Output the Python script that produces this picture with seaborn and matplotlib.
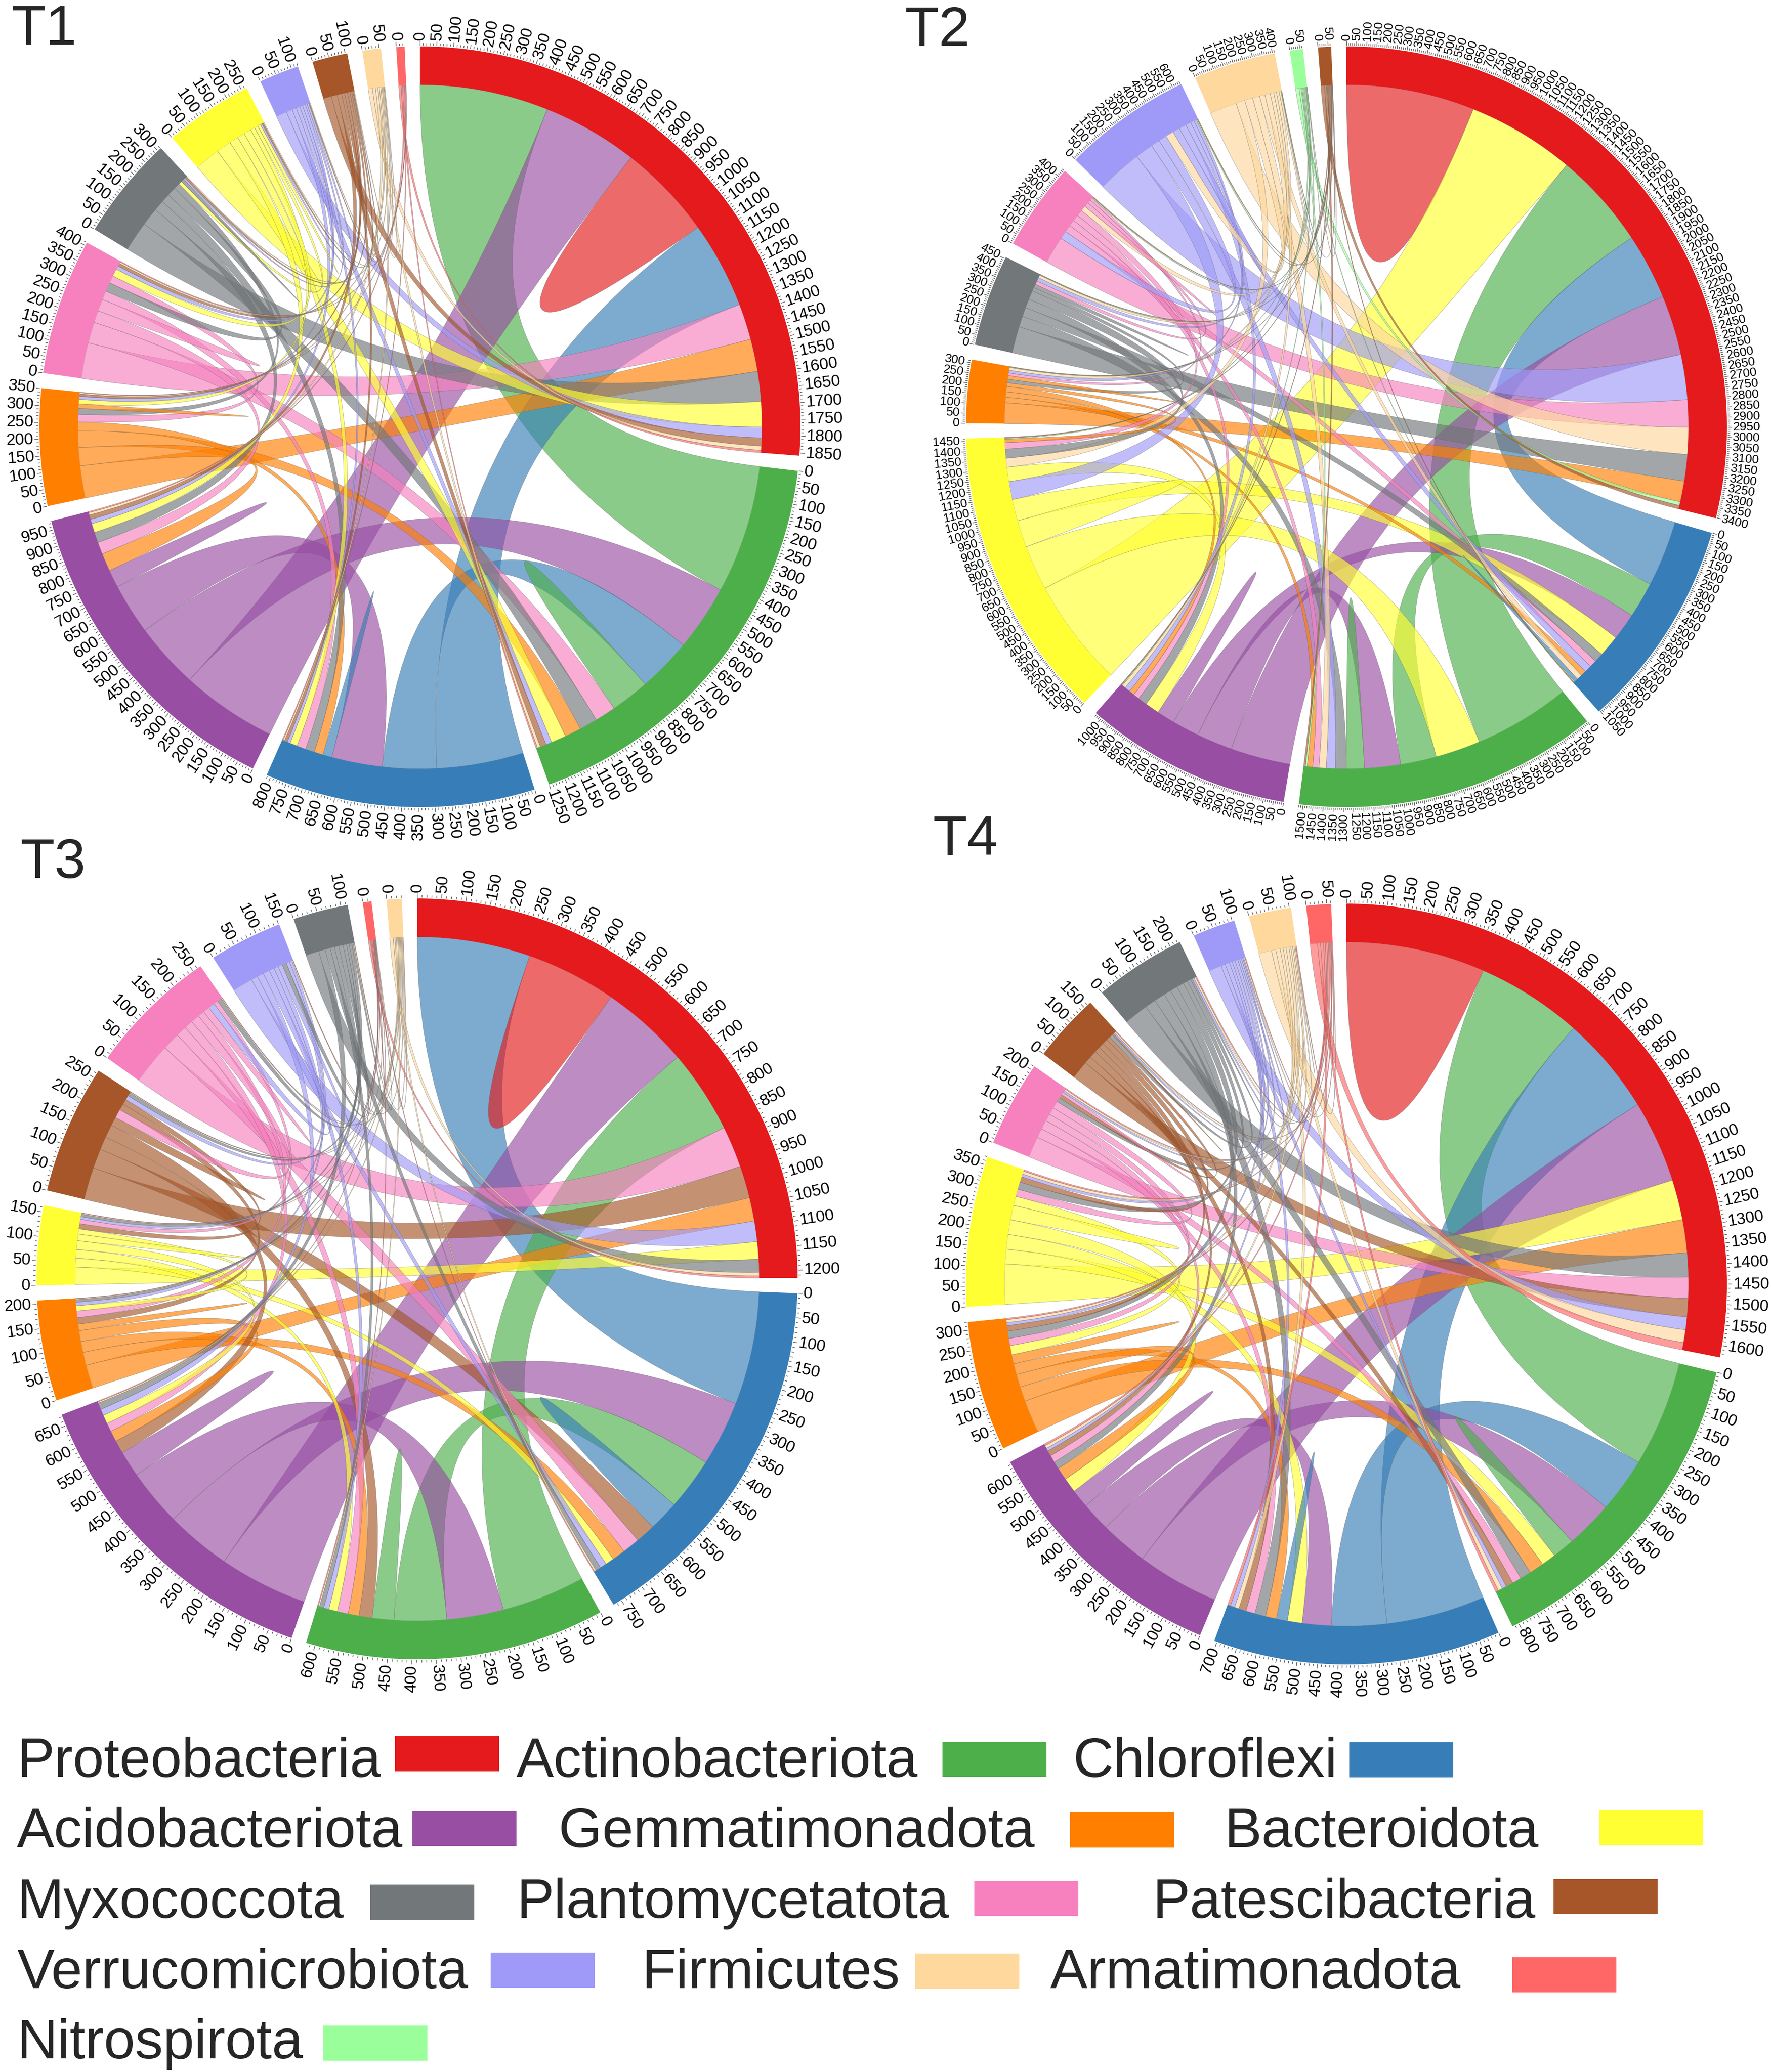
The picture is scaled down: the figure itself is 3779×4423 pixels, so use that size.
import numpy as np
import matplotlib
matplotlib.use("Agg")
import matplotlib.pyplot as plt
from matplotlib.path import Path
from matplotlib.patches import PathPatch, Wedge, Rectangle
from matplotlib.collections import LineCollection
from matplotlib.colors import to_rgba
import seaborn as sns

sns.set_theme(style="white")
plt.rcParams["font.family"] = ["Liberation Sans", "DejaVu Sans"]

# ---- phyla -------------------------------------------------------------
NAMES = {
    "Pro": "Proteobacteria", "Act": "Actinobacteriota", "Chl": "Chloroflexi",
    "Aci": "Acidobacteriota", "Gem": "Gemmatimonadota", "Bac": "Bacteroidota",
    "Myx": "Myxococcota", "Pla": "Plantomycetatota", "Pat": "Patescibacteria",
    "Ver": "Verrucomicrobiota", "Fir": "Firmicutes", "Arm": "Armatimonadota",
    "Nit": "Nitrospirota",
}
set1 = sns.color_palette("Set1", 9).as_hex()
COLORS = {
    "Pro": set1[0], "Chl": set1[1], "Act": set1[2], "Aci": set1[3],
    "Gem": set1[4], "Bac": set1[5], "Pat": set1[6], "Pla": set1[7],
    "Myx": "#72777a", "Ver": "#9f9af8", "Fir": "#fed89d",
    "Arm": "#ff6666", "Nit": "#9aff9a",
}

# ---- T1 ----------------------------------------------------------------
T1_ORDER = ["Pro", "Act", "Chl", "Aci", "Gem", "Pla", "Myx", "Bac", "Ver", "Pat", "Fir", "Arm"]
T1_LINKS = [
    ("Pro", "Act", 430), ("Pro", "Aci", 320), ("Pro", "Pro", 320), ("Pro", "Chl", 290),
    ("Pro", "Pla", 120), ("Pro", "Gem", 108), ("Pro", "Myx", 100), ("Pro", "Bac", 85),
    ("Pro", "Ver", 36), ("Pro", "Pat", 27), ("Pro", "Fir", 14), ("Pro", "Arm", 8),
    ("Act", "Aci", 220), ("Act", "Chl", 180), ("Act", "Act", 130), ("Act", "Pla", 70),
    ("Act", "Myx", 60), ("Act", "Gem", 55), ("Act", "Bac", 50), ("Act", "Ver", 20),
    ("Act", "Pat", 20), ("Act", "Fir", 10), ("Act", "Arm", 5),
    ("Chl", "Aci", 170), ("Chl", "Chl", 30), ("Chl", "Gem", 30), ("Chl", "Myx", 30),
    ("Chl", "Pla", 30), ("Chl", "Bac", 25), ("Chl", "Ver", 10), ("Chl", "Pat", 10),
    ("Chl", "Fir", 5), ("Chl", "Arm", 3),
    ("Aci", "Aci", 60), ("Aci", "Gem", 60), ("Aci", "Pla", 40), ("Aci", "Myx", 35),
    ("Aci", "Bac", 30), ("Aci", "Ver", 15), ("Aci", "Pat", 15), ("Aci", "Fir", 8), ("Aci", "Arm", 4),
    ("Gem", "Pla", 25), ("Gem", "Myx", 20), ("Gem", "Gem", 15), ("Gem", "Bac", 15),
    ("Gem", "Ver", 10), ("Gem", "Pat", 8), ("Gem", "Fir", 4), ("Gem", "Arm", 2),
    ("Pla", "Pla", 40), ("Pla", "Myx", 30), ("Pla", "Bac", 25), ("Pla", "Ver", 12),
    ("Pla", "Pat", 10), ("Pla", "Fir", 5), ("Pla", "Arm", 3),
    ("Myx", "Bac", 12), ("Myx", "Myx", 10), ("Myx", "Ver", 6), ("Myx", "Pat", 6), ("Myx", "Fir", 3),
    ("Bac", "Bac", 10), ("Bac", "Ver", 6), ("Bac", "Pat", 5), ("Bac", "Fir", 3),
    ("Ver", "Pat", 3), ("Ver", "Fir", 2), ("Pat", "Fir", 2),
]

# ---- T2 ----------------------------------------------------------------
T2_ORDER = ["Pro", "Chl", "Act", "Aci", "Bac", "Gem", "Myx", "Pla", "Ver", "Fir", "Nit", "Pat"]
T2_LINKS = [
    ("Pro", "Pro", 713), ("Pro", "Bac", 600), ("Pro", "Act", 536), ("Pro", "Chl", 366),
    ("Pro", "Aci", 333), ("Pro", "Ver", 250), ("Pro", "Pla", 152), ("Pro", "Fir", 150),
    ("Pro", "Myx", 148), ("Pro", "Gem", 115), ("Pro", "Nit", 20), ("Pro", "Pat", 20),
    ("Chl", "Act", 200), ("Chl", "Aci", 150), ("Chl", "Bac", 120), ("Chl", "Pla", 40),
    ("Chl", "Myx", 50), ("Chl", "Ver", 40), ("Chl", "Gem", 30), ("Chl", "Fir", 30),
    ("Chl", "Chl", 20), ("Chl", "Nit", 5), ("Chl", "Pat", 5),
    ("Act", "Bac", 250), ("Act", "Aci", 200), ("Act", "Act", 100), ("Act", "Myx", 60),
    ("Act", "Ver", 50), ("Act", "Pla", 35), ("Act", "Fir", 40), ("Act", "Gem", 30),
    ("Act", "Nit", 10), ("Act", "Pat", 10),
    ("Aci", "Aci", 100), ("Aci", "Bac", 80), ("Aci", "Myx", 50), ("Aci", "Pla", 35),
    ("Aci", "Gem", 30), ("Aci", "Ver", 30), ("Aci", "Fir", 20), ("Aci", "Nit", 5), ("Aci", "Pat", 5),
    ("Bac", "Bac", 150), ("Bac", "Ver", 100), ("Bac", "Fir", 50), ("Bac", "Myx", 50),
    ("Bac", "Pla", 35), ("Bac", "Gem", 20), ("Bac", "Nit", 5), ("Bac", "Pat", 5),
    ("Gem", "Myx", 20), ("Gem", "Pla", 15), ("Gem", "Gem", 20), ("Gem", "Ver", 15),
    ("Gem", "Fir", 15), ("Gem", "Nit", 3), ("Gem", "Pat", 3),
    ("Myx", "Myx", 20), ("Myx", "Pla", 20), ("Myx", "Ver", 20), ("Myx", "Fir", 15),
    ("Myx", "Nit", 3), ("Myx", "Pat", 3),
    ("Pla", "Ver", 45), ("Pla", "Fir", 30), ("Pla", "Pla", 25), ("Pla", "Nit", 5), ("Pla", "Pat", 5),
    ("Ver", "Fir", 45), ("Ver", "Ver", 40), ("Ver", "Nit", 5), ("Ver", "Pat", 5),
    ("Fir", "Fir", 10), ("Fir", "Nit", 3), ("Fir", "Pat", 3), ("Nit", "Pat", 1),
]

# ---- T3 ----------------------------------------------------------------
T3_ORDER = ["Pro", "Chl", "Act", "Aci", "Gem", "Bac", "Pat", "Pla", "Ver", "Myx", "Arm", "Fir"]
T3_LINKS = [
    ("Pro", "Chl", 260), ("Pro", "Pro", 207), ("Pro", "Aci", 204), ("Pro", "Act", 192),
    ("Pro", "Pla", 95), ("Pro", "Pat", 74), ("Pro", "Gem", 54), ("Pro", "Ver", 47),
    ("Pro", "Bac", 40), ("Pro", "Myx", 30), ("Pro", "Fir", 8), ("Pro", "Arm", 5),
    ("Chl", "Aci", 150), ("Chl", "Act", 120), ("Chl", "Chl", 70), ("Chl", "Pat", 45),
    ("Chl", "Pla", 40), ("Chl", "Gem", 30), ("Chl", "Bac", 20), ("Chl", "Ver", 15),
    ("Chl", "Myx", 12), ("Chl", "Fir", 4), ("Chl", "Arm", 2),
    ("Act", "Aci", 130), ("Act", "Act", 50), ("Act", "Pat", 30), ("Act", "Gem", 25),
    ("Act", "Pla", 25), ("Act", "Bac", 20), ("Act", "Ver", 12), ("Act", "Myx", 10),
    ("Act", "Fir", 3), ("Act", "Arm", 2),
    ("Aci", "Aci", 60), ("Aci", "Pat", 30), ("Aci", "Gem", 25), ("Aci", "Pla", 20),
    ("Aci", "Bac", 20), ("Aci", "Ver", 15), ("Aci", "Myx", 15), ("Aci", "Fir", 3), ("Aci", "Arm", 2),
    ("Gem", "Gem", 15), ("Gem", "Pat", 15), ("Gem", "Pla", 15), ("Gem", "Bac", 12),
    ("Gem", "Ver", 8), ("Gem", "Myx", 6), ("Gem", "Fir", 2), ("Gem", "Arm", 1),
    ("Bac", "Bac", 15), ("Bac", "Pat", 12), ("Bac", "Pla", 10), ("Bac", "Ver", 6),
    ("Bac", "Myx", 6), ("Bac", "Fir", 2), ("Bac", "Arm", 1),
    ("Pat", "Pat", 20), ("Pat", "Pla", 20), ("Pat", "Ver", 10), ("Pat", "Myx", 8),
    ("Pat", "Fir", 2), ("Pat", "Arm", 1),
    ("Pla", "Pla", 15), ("Pla", "Ver", 15), ("Pla", "Myx", 10), ("Pla", "Fir", 2), ("Pla", "Arm", 1),
    ("Ver", "Ver", 10), ("Ver", "Myx", 10), ("Ver", "Fir", 2), ("Ver", "Arm", 1),
    ("Myx", "Myx", 4), ("Myx", "Fir", 2), ("Myx", "Arm", 1), ("Arm", "Fir", 1),
]

# ---- T4 ----------------------------------------------------------------
T4_ORDER = ["Pro", "Act", "Chl", "Aci", "Gem", "Bac", "Pla", "Pat", "Myx", "Ver", "Fir", "Arm"]
T4_LINKS = [
    ("Pro", "Pro", 380), ("Pro", "Act", 290), ("Pro", "Chl", 270), ("Pro", "Aci", 225),
    ("Pro", "Bac", 110), ("Pro", "Gem", 90), ("Pro", "Myx", 66), ("Pro", "Pla", 58),
    ("Pro", "Pat", 50), ("Pro", "Ver", 35), ("Pro", "Fir", 35), ("Pro", "Arm", 20),
    ("Act", "Chl", 150), ("Act", "Aci", 130), ("Act", "Act", 60), ("Act", "Bac", 40),
    ("Act", "Gem", 40), ("Act", "Myx", 30), ("Act", "Pla", 25), ("Act", "Pat", 20),
    ("Act", "Ver", 12), ("Act", "Fir", 12), ("Act", "Arm", 8),
    ("Chl", "Aci", 80), ("Chl", "Bac", 40), ("Chl", "Chl", 30), ("Chl", "Gem", 30),
    ("Chl", "Myx", 30), ("Chl", "Pla", 25), ("Chl", "Pat", 20), ("Chl", "Fir", 12),
    ("Chl", "Ver", 12), ("Chl", "Arm", 8),
    ("Aci", "Aci", 50), ("Aci", "Bac", 40), ("Aci", "Gem", 35), ("Aci", "Myx", 20),
    ("Aci", "Pla", 20), ("Aci", "Pat", 15), ("Aci", "Ver", 8), ("Aci", "Fir", 8), ("Aci", "Arm", 5),
    ("Gem", "Gem", 25), ("Gem", "Bac", 25), ("Gem", "Pla", 20), ("Gem", "Myx", 20),
    ("Gem", "Pat", 15), ("Gem", "Ver", 8), ("Gem", "Fir", 8), ("Gem", "Arm", 4),
    ("Bac", "Bac", 40), ("Bac", "Pla", 20), ("Bac", "Myx", 20), ("Bac", "Pat", 15),
    ("Bac", "Ver", 8), ("Bac", "Fir", 8), ("Bac", "Arm", 4),
    ("Pla", "Myx", 12), ("Pla", "Pat", 10), ("Pla", "Pla", 8), ("Pla", "Ver", 5),
    ("Pla", "Fir", 5), ("Pla", "Arm", 3),
    ("Pat", "Myx", 10), ("Pat", "Pat", 4), ("Pat", "Ver", 4), ("Pat", "Fir", 4), ("Pat", "Arm", 2),
    ("Myx", "Myx", 5), ("Myx", "Ver", 5), ("Myx", "Fir", 5), ("Myx", "Arm", 3),
    ("Ver", "Ver", 3), ("Ver", "Fir", 3), ("Ver", "Arm", 2),
    ("Fir", "Fir", 2), ("Fir", "Arm", 2),
]

LEGEND_ROWS = [["Pro", "Act", "Chl"], ["Aci", "Gem", "Bac"], ["Myx", "Pla", "Pat"],
               ["Ver", "Fir", "Arm"], ["Nit"]]

# ---- geometry (pixels, y measured from the top) -------------------------
W, H = 3780, 4423
R_OUT, R_IN = 812, 730
GAP = 2.3
PANELS = [
    ("T1", T1_ORDER, T1_LINKS, (896, 911), (24, 95), 25),
    ("T2", T2_ORDER, T2_LINKS, (2873, 911), (1930, 98), 19),
    ("T3", T3_ORDER, T3_LINKS, (890, 2730), (43, 1874), 25),
    ("T4", T4_ORDER, T4_LINKS, (2873, 2741), (1990, 1825), 25),
]


def polar(cx, cy, r, ang):
    a = np.radians(ang)
    return cx + r * np.cos(a), cy + r * np.sin(a)


def arc(cx, cy, r, a0, a1):
    n = max(2, int(abs(a1 - a0) / 0.4) + 2)
    return [polar(cx, cy, r, a) for a in np.linspace(a0, a1, n)]


def chord(ax, cx, cy, order, links, fs):
    totals = {s: 0.0 for s in order}
    for a, b, v in links:
        totals[a] += v
        if a != b:
            totals[b] += v
    dpu = (360 - len(order) * GAP) / sum(totals.values())
    start, ang = {}, 90.0
    for s in order:
        start[s] = ang
        ang -= totals[s] * dpu + GAP

    def pos(s, u):
        return start[s] - u * dpu

    # place link ends inside each sector, widest first
    ends = {}
    for s in order:
        items = [(v, k) for k, (a, b, v) in enumerate(links) if s in (a, b)]
        items.sort(key=lambda t: -t[0])
        u = 0.0
        for v, k in items:
            ends.setdefault(k, []).append((s, u, u + v))
            u += v

    M, L, C3, CL = Path.MOVETO, Path.LINETO, Path.CURVE3, Path.CLOSEPOLY
    for k, (a, b, v) in enumerate(links):
        col = COLORS[order[max(order.index(a), order.index(b))]]
        e = ends[k]
        if len(e) == 1:
            s, u0, u1 = e[0]
            pa = arc(cx, cy, R_IN, pos(s, u0), pos(s, u1))
            verts = pa + [(cx, cy), pa[0], pa[0]]
            codes = [M] + [L] * (len(pa) - 1) + [C3, C3, CL]
        else:
            (sa, a0, a1), (sb, b0, b1) = e
            pa = arc(cx, cy, R_IN, pos(sa, a0), pos(sa, a1))
            pb = arc(cx, cy, R_IN, pos(sb, b0), pos(sb, b1))
            verts = pa + [(cx, cy), pb[0]] + pb[1:] + [(cx, cy), pa[0], pa[0]]
            codes = ([M] + [L] * (len(pa) - 1) + [C3, C3] + [L] * (len(pb) - 1)
                     + [C3, C3, CL])
        ax.add_patch(PathPatch(Path(verts, codes), facecolor=to_rgba(col, 0.65),
                               edgecolor=(0.4, 0.4, 0.4, 0.45), lw=0.7, zorder=1))

    segs = []
    for s in order:
        a_end = pos(s, totals[s])
        ax.add_patch(Wedge((cx, cy), R_OUT, a_end, start[s], width=R_OUT - R_IN,
                           facecolor=COLORS[s], edgecolor="none", zorder=2))
        for u in range(0, int(totals[s]) + 1, 10):
            t = pos(s, u)
            ln = 9 if u % 50 == 0 else 5
            segs.append([polar(cx, cy, R_OUT + 2, t), polar(cx, cy, R_OUT + 2 + ln, t)])
            if u % 50 == 0:
                x, y = polar(cx, cy, R_OUT + 13, t)
                tt = (t + 180) % 360 - 180
                if -90 <= tt <= 90:
                    rot, ha = tt, "left"
                else:
                    rot, ha = tt - 180, "right"
                ax.text(x, y, str(u), rotation=rot, ha=ha, va="center",
                        rotation_mode="anchor", fontsize=fs, color="black", zorder=4)
    ax.add_collection(LineCollection(segs, colors="#555555", linewidths=1.0, zorder=3))


fig = plt.figure(figsize=(W / 100, H / 100), dpi=100)
ax = fig.add_axes([0, 0, 1, 1])
ax.set_xlim(0, W)
ax.set_ylim(0, H)
ax.axis("off")

for title, order, links, (cx, cy), (tx, ty), fs in PANELS:
    chord(ax, cx, H - cy, order, links, fs)
    ax.text(tx, H - ty, title, fontsize=86, ha="left", va="baseline", zorder=5)

# legend
base_y = [3793, 3943, 4094, 4244, 4394]
text_x = [[36, 1102, 2290], [36, 1192, 2612], [36, 1102, 2459], [36, 1369, 2241], [36]]
box_x = [[843, 2011, 2879], [880, 2283, 3412], [790, 2079, 3315], [1047, 1953, 3227], [690]]
box_y = [[3706, 3718, 3719], [3866, 3869, 3864], [4023, 4015, 4011], [4168, 4170, 4178], [4324]]
for r, row in enumerate(LEGEND_ROWS):
    for i, key in enumerate(row):
        ax.text(text_x[r][i], H - base_y[r], NAMES[key], fontsize=86,
                ha="left", va="baseline")
        ax.add_patch(Rectangle((box_x[r][i], H - box_y[r][i] - 75), 222, 75,
                               facecolor=COLORS[key], edgecolor="none"))

fig.savefig("out.png", dpi=100)
